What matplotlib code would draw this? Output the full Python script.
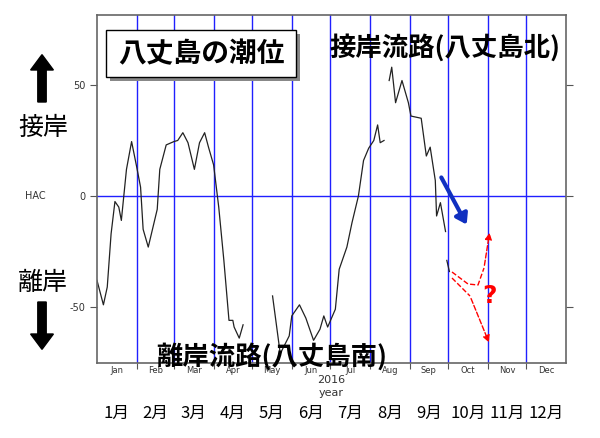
import matplotlib
matplotlib.use("Agg")
import matplotlib.pyplot as plt
import numpy as np
from matplotlib.patches import FancyArrow, Rectangle

plt.rcParams['font.family'] = ['Noto Sans CJK JP', 'DejaVu Sans']

# tide level (cm) vs day of year 2016, segments separated by gaps
seg1_day = [0, 5, 8, 11, 14, 17, 19, 23, 27, 31, 34, 36, 40, 47, 49, 54, 60, 63, 67, 71, 76, 80, 84, 87, 91, 95, 99, 103, 106, 107, 111, 114]
seg1_val = [-38, -49, -41, -17, -2.5, -5, -11, 12, 24.5, 13, 4, -15, -23, -6, 12, 23, 24.5, 25, 28.5, 24, 12, 24, 28.5, 22, 14, -5, -29, -56, -56, -59, -64, -58]
seg2_day = [137, 143, 150, 152, 158, 163, 169, 174, 177, 180, 186, 189, 195, 199, 204, 208, 212, 216, 219, 221, 224]
seg2_val = [-45, -71, -63, -54, -49, -55, -65, -60, -54, -59, -51, -33, -23, -12, 0, 16, 21.5, 25, 32, 24, 25]
seg3_day = [228, 230, 233, 238, 243, 245, 253, 257, 260, 264, 265, 268, 272]
seg3_val = [52, 58, 42, 52, 42, 36, 35, 18, 22, 7, -9, -3, -16]
seg4_day = [273, 275]
seg4_val = [-29, -34]

month_start = [0, 31, 60, 91, 121, 152, 182, 213, 244, 274, 305, 335, 366]
month_en = ['Jan', 'Feb', 'Mar', 'Apr', 'May', 'Jun', 'Jul', 'Aug', 'Sep', 'Oct', 'Nov', 'Dec']
month_jp = ['1月', '2月', '3月', '4月', '5月', '6月', '7月', '8月', '9月', '10月', '11月', '12月']
yticks = [-50, 0, 50]

fig = plt.figure(figsize=(6, 4.38), dpi=100)
ax = fig.add_axes([97/600, 75/438, 469/600, 348/438])
ax.set_xlim(0, 366)
ax.set_ylim(-75.2, 81.5)

for d in month_start[1:-1]:
    ax.axvline(d, color='#2020ff', lw=1)
ax.axhline(0, color='#2020ff', lw=1)

for xs, ys in [(seg1_day, seg1_val), (seg2_day, seg2_val), (seg3_day, seg3_val), (seg4_day, seg4_val)]:
    ax.plot(xs, ys, color='#222222', lw=0.9)

mids = [(a + b) / 2 for a, b in zip(month_start[:-1], month_start[1:])]
ax.set_xticks(month_start[1:-1])
ax.set_xticklabels([])
ax.set_xticks(mids, minor=True)
ax.set_xticklabels(month_en, minor=True, fontsize=6, color='#333333', family='DejaVu Sans')
ax.tick_params(axis='x', which='minor', length=0, pad=2)
ax.tick_params(axis='x', which='major', length=4, color='#555555')
ax.set_yticks(yticks)
ax.set_yticklabels([str(v) for v in yticks], fontsize=7, color='#333333', family='DejaVu Sans')
ax.tick_params(axis='y', right=True, length=5, color='#555555')
for s in ax.spines.values():
    s.set_color('#666666')
    s.set_linewidth(1.2)

ax.text(0.5, -0.05, '2016', transform=ax.transAxes, ha='center', va='center', fontsize=8, color='#333333', family='DejaVu Sans')
ax.text(0.5, -0.085, 'year', transform=ax.transAxes, ha='center', va='center', fontsize=8, color='#333333', family='DejaVu Sans')

for m, lab in zip(mids, month_jp):
    xf = (97 + m * 469 / 366) / 600
    fig.text(xf, 1 - 413/438, lab, ha='center', va='center', fontsize=12)

fig.text(35/600, 1 - 196/438, 'HAC', ha='center', va='center', fontsize=7, family='DejaVu Sans', color='#333333')
fig.text(43/600, 1 - 128/438, '接岸', ha='center', va='center', fontsize=18)
fig.text(43/600, 1 - 283/438, '離岸', ha='center', va='center', fontsize=18)
fig.patches.append(FancyArrow(42/600, 1 - 102/438, 0, 32/438, width=0.014, head_width=0.038, head_length=0.035,
                              color='black', transform=fig.transFigure))
fig.patches.append(FancyArrow(42/600, 1 - 302/438, 0, -32/438, width=0.014, head_width=0.038, head_length=0.035,
                              color='black', transform=fig.transFigure))

# title box with shadow
fig.patches.append(Rectangle((110/600, 1 - 81/438), 190/600, 47/438, transform=fig.transFigure,
                             facecolor='#888888', edgecolor='none', zorder=5))
fig.patches.append(Rectangle((106/600, 1 - 77/438), 190/600, 47/438, transform=fig.transFigure,
                             facecolor='white', edgecolor='black', lw=1, zorder=6))
fig.text(201/600, 1 - 54/438, '八丈島の潮位', ha='center', va='center', fontsize=20, weight='bold', zorder=7)
fig.text(445/600, 1 - 48/438, '接岸流路(八丈島北)', ha='center', va='center', fontsize=19, weight='bold')
fig.text(272/600, 1 - 357/438, '離岸流路(八丈島南)', ha='center', va='center', fontsize=19, weight='bold', zorder=8)

# annotation arrows (figure coords)
def fp(x, y):
    return (x / 600, 1 - y / 438)
ax.annotate('', xy=fp(468, 227), xytext=fp(440, 175), xycoords='figure fraction',
            arrowprops=dict(arrowstyle='-|>,head_width=0.4,head_length=0.6', color='#1030c0', lw=3))
for pts in [[(452, 272), (468, 284), (478, 285), (484, 268)], [(452, 278), (470, 296)]]:
    xs = [fp(*p)[0] for p in pts]
    ys = [fp(*p)[1] for p in pts]
    fig.lines.append(plt.Line2D(xs, ys, transform=fig.transFigure, color='red', ls='--', lw=1))
ax.annotate('', xy=fp(490, 230), xytext=fp(484, 268), xycoords='figure fraction',
            arrowprops=dict(arrowstyle='-|>', color='red', lw=1, ls='--'))
ax.annotate('', xy=fp(490, 345), xytext=fp(470, 296), xycoords='figure fraction',
            arrowprops=dict(arrowstyle='-|>', color='red', lw=1, ls='--'))
fig.text(490/600, 1 - 296/438, '?', ha='center', va='center', fontsize=18, weight='bold', color='red', family='DejaVu Sans')

fig.savefig('out.png', dpi=100)
